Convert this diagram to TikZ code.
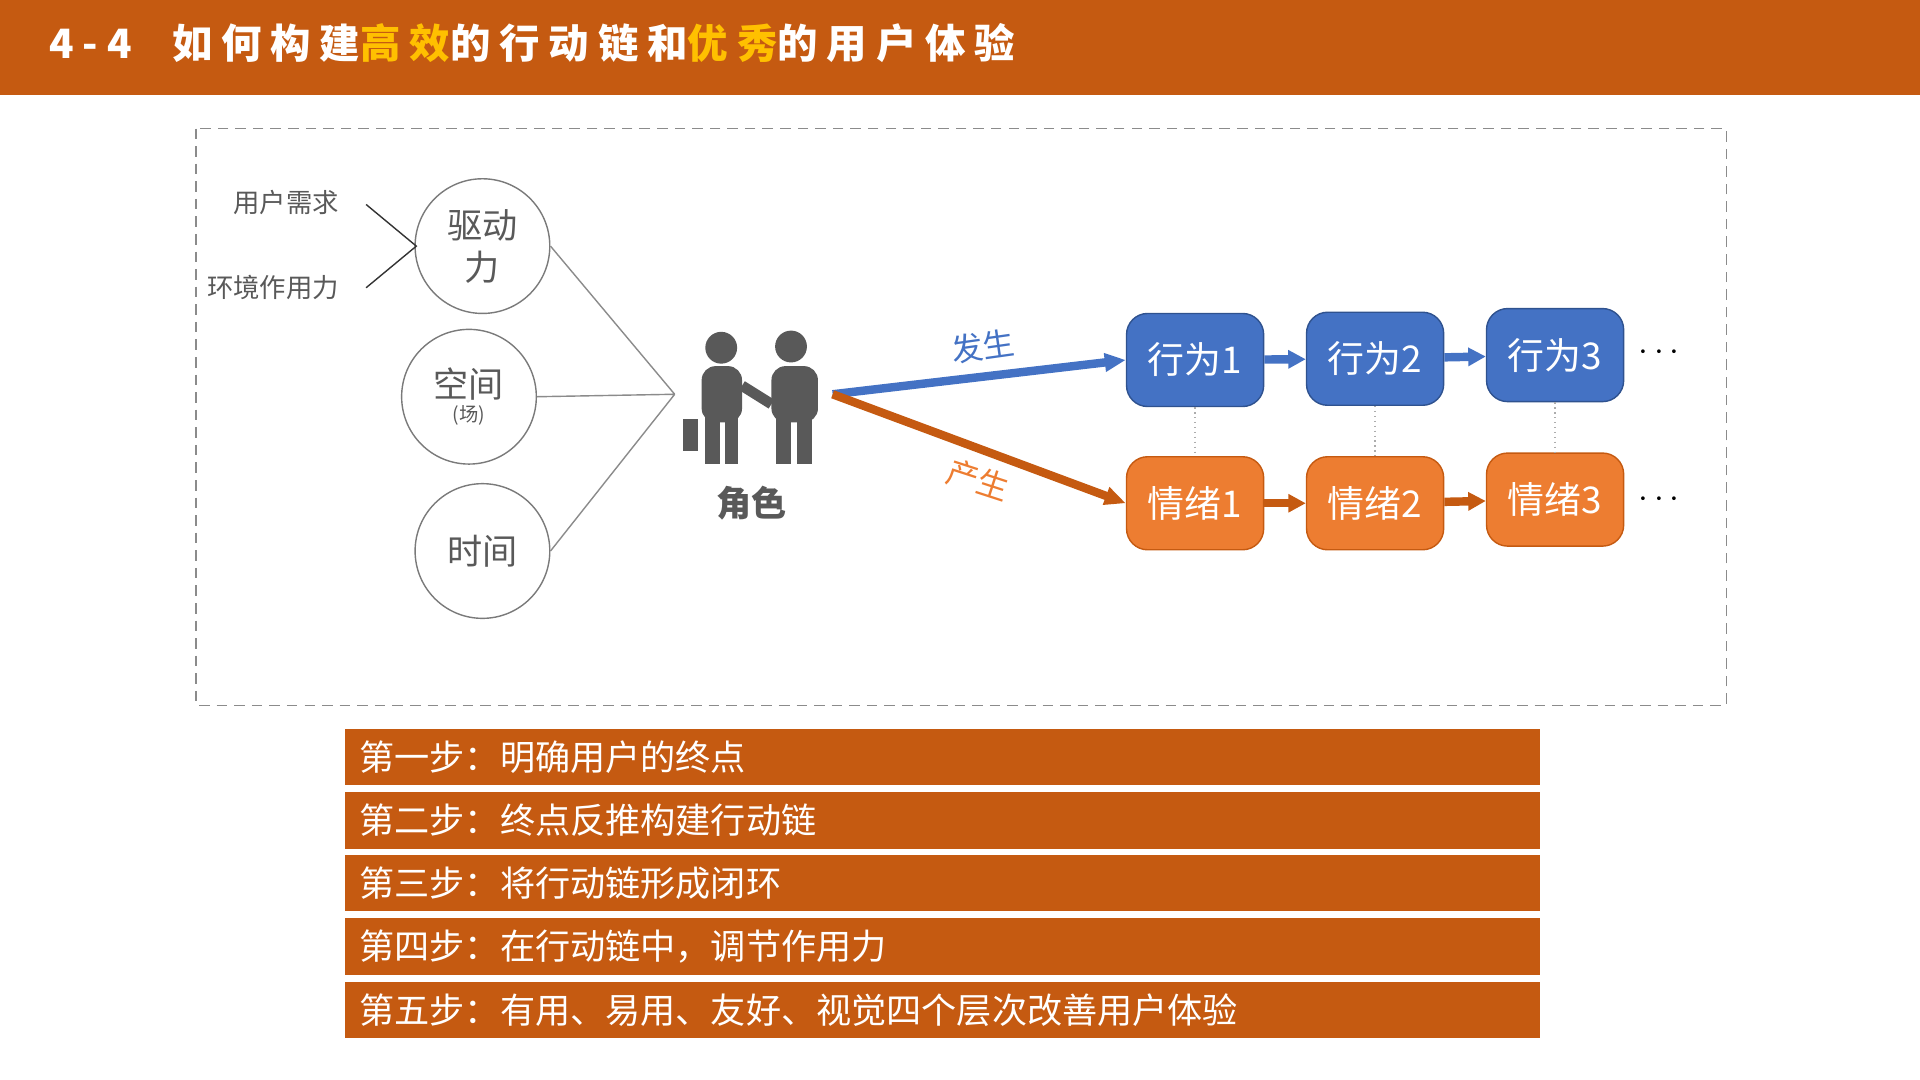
\documentclass[tikz,border=0pt]{standalone}
\usepackage{fontspec}
\newfontfamily\cjk{Noto Sans CJK SC}
\newfontfamily\cjkwide[LetterSpace=22]{Noto Sans CJK SC}
\usetikzlibrary{arrows.meta,positioning,calc}
\definecolor{rust}{HTML}{C55A11}
\definecolor{gold}{HTML}{FFC000}
\definecolor{bblue}{HTML}{4472C4}
\definecolor{bedge}{HTML}{2F528F}
\definecolor{borange}{HTML}{ED7D31}
\definecolor{ink}{HTML}{595959}
\tikzset{
  ring/.style={circle, draw=ink!80, thin, minimum size=110*0.12245mm, inner sep=0pt, text=ink, align=center, font=\cjk\fontsize{10}{11}\selectfont},
  act/.style={rounded corners=6pt, draw=bedge, fill=bblue, minimum width=112*0.12245mm, minimum height=76*0.12245mm, text=white, font=\cjk\fontsize{10.5}{12}\selectfont},
  emo/.style={act, draw=rust, fill=borange},
  stepbar/.style={fill=rust, minimum height=46*0.12245mm, text=white, anchor=west, inner xsep=12*0.12245mm, inner ysep=0pt, font=\cjk\fontsize{10}{11}\selectfont, text width=952*0.12245mm, align=left},
  link/.style={-{Triangle[length=5pt,width=5pt]}, line width=2.4pt},
}
\begin{document}
\begin{tikzpicture}[x=0.12245mm, y=-0.12245mm]
\useasboundingbox (0,0) rectangle (1568,882);
% header
\fill[rust] (0,0) rectangle (1568,78);
\node[anchor=west, text=white, font=\cjkwide\bfseries\fontsize{11.5}{13}\selectfont] (title) at (30,35)
  {4-4\quad 如何构建\textcolor{gold}{高效}的行动链和\textcolor{gold}{优秀}的用户体验};
% frame
\draw[densely dashed, ink!70] (160,105) rectangle (1410,576);
% forces
\node[anchor=east, text=ink, font=\cjk\fontsize{7.5}{9}\selectfont] (need) at (287,165) {用户需求};
\node[anchor=east, text=ink, font=\cjk\fontsize{7.5}{9}\selectfont] (env) at (287,235) {环境作用力};
\node[ring] (drive) at (394,201) {驱动\\[1pt]力};
\node[ring] (space) at (383,324) {空间\\[-4pt]{\fontsize{5.5}{6}\selectfont (场)}};
\node[ring] (time) at (394,450) {时间};
\coordinate (fork) at (340,201);
\coordinate (hub) at (551,322);
\draw[black!80] ($(need.east)+(12,2)$) -- (fork) -- ($(env.east)+(12,0)$);
\draw[ink!70] (drive.east) -- (hub) (space.east) -- (hub) (time.east) -- (hub);
% role figure
\begin{scope}[fill=ink]
\fill (589,284) circle (13);
\fill (646,283) circle (13);
\fill[rounded corners=4pt] (573,299) rectangle (606,345);
\fill[rounded corners=4pt] (630,299) rectangle (668,345);
\fill (576,340) rectangle (588,379);
\fill (592,340) rectangle (603,379);
\fill (634,340) rectangle (646,379);
\fill (651,340) rectangle (663,379);
\fill (558,342) rectangle (570,368);
\draw[ink, line width=3pt] (606,315) -- (630,330);
\end{scope}
\node[text=ink, font=\cjk\bfseries\fontsize{10}{11}\selectfont] (role) at (614,411) {角色};
\coordinate (src) at (680,322);
% chains
\foreach \i/\x/\ya/\yb in {1/976/294/411, 2/1123/293/411, 3/1270/290/408}{
  \node[act] (b\i) at (\x,\ya) {行为\i};
  \node[emo] (e\i) at (\x,\yb) {情绪\i};
  \draw[densely dotted, ink!50] (b\i) -- (e\i);
}
\draw[link, bblue] (b1) -- (b2);
\draw[link, bblue] (b2) -- (b3);
\draw[link, rust] (e1) -- (e2);
\draw[link, rust] (e2) -- (e3);
\node[text=black] (bmore) at (1355,288) {$\cdots$};
\node[text=black] (emore) at (1355,408) {$\cdots$};
\draw[-{Triangle[length=6pt,width=5pt]}, line width=2.4pt, bblue] (src) -- (b1.west);
\draw[-{Triangle[length=6pt,width=5pt]}, line width=2.4pt, rust] (src) -- (e1.west);
\node[text=bblue, rotate=8, font=\cjk\fontsize{9}{10}\selectfont] (occur) at (803,283) {发生};
\node[text=borange, rotate=-18, font=\cjk\fontsize{9}{10}\selectfont] (yield) at (799,392) {产生};
% steps
\foreach \y/\t in {618/第一步：明确用户的终点, 670/第二步：终点反推构建行动链, 721/第三步：将行动链形成闭环, 773/第四步：在行动链中，调节作用力, 825/第五步：有用、易用、友好、视觉四个层次改善用户体验}{
  \node[stepbar] at (281,\y) {\t};
}
\end{tikzpicture}
\end{document}
